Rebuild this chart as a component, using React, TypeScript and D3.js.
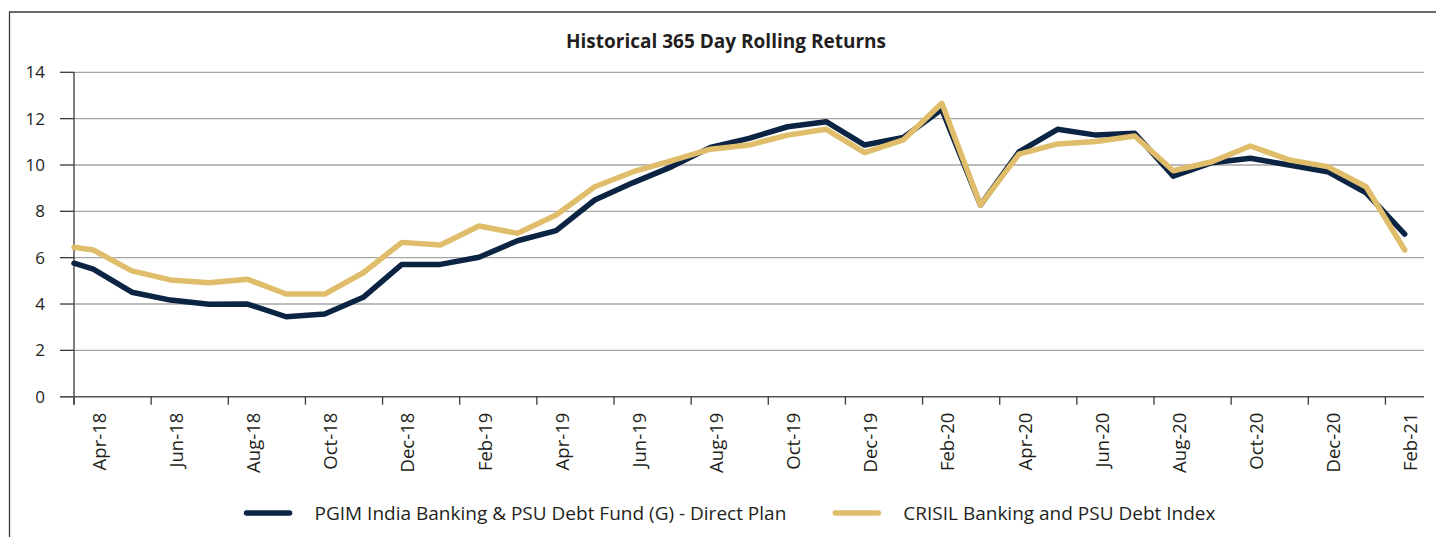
import { useRef, useEffect } from "react";
import * as d3 from "d3";

const months = [
  "Apr-18", "May-18", "Jun-18", "Jul-18", "Aug-18", "Sep-18", "Oct-18", "Nov-18", "Dec-18",
  "Jan-19", "Feb-19", "Mar-19", "Apr-19", "May-19", "Jun-19", "Jul-19", "Aug-19", "Sep-19",
  "Oct-19", "Nov-19", "Dec-19", "Jan-20", "Feb-20", "Mar-20", "Apr-20", "May-20", "Jun-20",
  "Jul-20", "Aug-20", "Sep-20", "Oct-20", "Nov-20", "Dec-20", "Jan-21", "Feb-21",
];

// opening values at the left edge of the axis
const fundStart = 5.76;
const benchStart = 6.45;

const fundValues = [
  5.51, 4.51, 4.17, 3.99, 4.0, 3.45, 3.57, 4.29, 5.71, 5.71, 6.02, 6.73, 7.17, 8.49, 9.24,
  9.93, 10.76, 11.15, 11.65, 11.87, 10.86, 11.19, 12.4, 8.27, 10.57, 11.54, 11.29, 11.37,
  9.52, 10.1, 10.29, 10.0, 9.71, 8.8, 7.02,
];

const benchValues = [
  6.33, 5.43, 5.04, 4.92, 5.07, 4.43, 4.43, 5.35, 6.66, 6.55, 7.37, 7.05, 7.84, 9.06, 9.71,
  10.19, 10.68, 10.86, 11.29, 11.54, 10.53, 11.08, 12.66, 8.27, 10.47, 10.91, 11.01, 11.25,
  9.75, 10.14, 10.82, 10.22, 9.93, 9.06, 6.33,
];

const yTicks = [0, 2, 4, 6, 8, 10, 12, 14];

const seriesNames = [
  "PGIM India Banking & PSU Debt Fund (G) - Direct Plan",
  "CRISIL Banking and PSU Debt Index",
];

const W = 1436;
const H = 537;
const NAVY = "#0b2444";
const GOLD = "#dfbd6b";
const FONT = "'Open Sans', sans-serif";

const App = () => {
  const svgRef = useRef<SVGSVGElement | null>(null);

  useEffect(() => {
    if (!svgRef.current) return;
    const svg = d3.select(svgRef.current);
    svg.selectAll("*").remove();

    const left = 74;
    const right = 1424;
    const top = 72.3;
    const bottom = 396.7;

    const x = d3.scaleBand<string>().domain(months).range([left, right]).padding(0);
    const y = d3.scaleLinear().domain([0, 14]).range([bottom, top]);
    const bw = x.bandwidth();
    const cx = (m: string) => (x(m) as number) + bw / 2;

    // frame
    svg.append("path")
      .attr("d", `M9.5,${H} V12 H${W}`)
      .attr("fill", "none")
      .attr("stroke", "#3a3a3a")
      .attr("stroke-width", 1.3);

    svg.append("text")
      .attr("x", 726)
      .attr("y", 48)
      .attr("text-anchor", "middle")
      .attr("font-family", FONT)
      .attr("font-weight", 700)
      .attr("font-size", 19)
      .attr("fill", "#231f20")
      .text("Historical 365 Day Rolling Returns");

    // gridlines
    svg.append("g")
      .selectAll("line")
      .data(yTicks.filter((t) => t > 0))
      .enter()
      .append("line")
      .attr("x1", left)
      .attr("x2", right)
      .attr("y1", (d) => y(d))
      .attr("y2", (d) => y(d))
      .attr("stroke", "#a6a6a6")
      .attr("stroke-width", 1.3);

    // y axis
    const yAxis = svg.append("g");
    yAxis.append("line")
      .attr("x1", left).attr("x2", left)
      .attr("y1", top).attr("y2", bottom + 8)
      .attr("stroke", "#3a3a3a").attr("stroke-width", 1.3);
    yAxis.selectAll("line.tick")
      .data(yTicks)
      .enter()
      .append("line")
      .attr("class", "tick")
      .attr("x1", 60).attr("x2", left)
      .attr("y1", (d) => y(d)).attr("y2", (d) => y(d))
      .attr("stroke", "#3a3a3a").attr("stroke-width", 1.3);
    yAxis.selectAll("text")
      .data(yTicks)
      .enter()
      .append("text")
      .attr("x", 45)
      .attr("y", (d) => y(d))
      .attr("dy", "0.36em")
      .attr("text-anchor", "end")
      .attr("font-family", FONT)
      .attr("font-size", 17)
      .attr("fill", "#231f20")
      .text((d) => d);

    // x axis
    const xAxis = svg.append("g");
    xAxis.append("line")
      .attr("x1", 60).attr("x2", right)
      .attr("y1", bottom).attr("y2", bottom)
      .attr("stroke", "#555").attr("stroke-width", 1.5);
    const labelled = months.filter((_, i) => i % 2 === 0);
    xAxis.selectAll("line.tick")
      .data(labelled)
      .enter()
      .append("line")
      .attr("class", "tick")
      .attr("x1", (d) => x(d) as number).attr("x2", (d) => x(d) as number)
      .attr("y1", bottom).attr("y2", bottom + 8)
      .attr("stroke", "#3a3a3a").attr("stroke-width", 1.3);
    xAxis.selectAll("text")
      .data(labelled)
      .enter()
      .append("text")
      .attr("transform", (d) => `translate(${cx(d) + 12.5},${bottom + 16}) rotate(-90)`)
      .attr("text-anchor", "end")
      .attr("font-family", FONT)
      .attr("font-size", 18.5)
      .attr("fill", "#231f20")
      .text((d) => d);

    // lines
    const line = d3
      .line<{ px: number; v: number }>()
      .x((d) => d.px)
      .y((d) => y(d.v));

    const build = (start: number, vals: number[]) => [
      { px: left, v: start },
      ...vals.map((v, i) => ({ px: cx(months[i]), v })),
    ];

    [
      { data: build(fundStart, fundValues), color: NAVY },
      { data: build(benchStart, benchValues), color: GOLD },
    ].forEach((s) => {
      svg.append("path")
        .attr("d", line(s.data))
        .attr("fill", "none")
        .attr("stroke", s.color)
        .attr("stroke-width", 5.5)
        .attr("stroke-linejoin", "round")
        .attr("stroke-linecap", "round");
    });

    // legend
    const legend = svg.append("g");
    const colors = [NAVY, GOLD];
    let lx = 0;
    seriesNames.forEach((name, i) => {
      const g = legend.append("g").attr("transform", `translate(${lx},0)`);
      g.append("line")
        .attr("x1", 2).attr("x2", 45)
        .attr("y1", 0).attr("y2", 0)
        .attr("stroke", colors[i])
        .attr("stroke-width", 5.5)
        .attr("stroke-linecap", "round");
      const t = g.append("text")
        .attr("x", 70)
        .attr("y", 0)
        .attr("dy", "0.36em")
        .attr("font-family", FONT)
        .attr("font-size", 19)
        .attr("fill", "#231f20")
        .text(name);
      const tw = (t.node() as SVGTextElement).getComputedTextLength();
      lx += 70 + tw + 47;
    });
    const totalW = lx - 47;
    legend.attr("transform", `translate(${730 - totalW / 2},513)`);
  }, []);

  return (
    <div style={{ position: "absolute", left: 0, top: 0 }}>
      <svg ref={svgRef} width={W} height={H} style={{ display: "block", background: "#fff" }}></svg>
    </div>
  );
};

export default App;
